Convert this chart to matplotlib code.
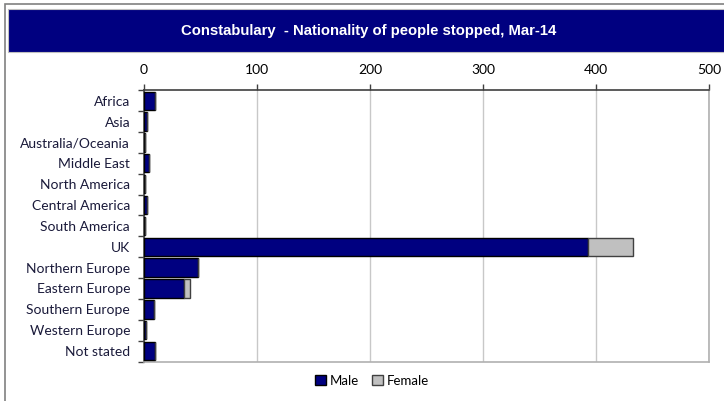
import matplotlib
matplotlib.use("Agg")
import matplotlib.pyplot as plt
import numpy as np
from matplotlib.patches import Rectangle

categories = ["Africa", "Asia", "Australia/Oceania", "Middle East", "North America",
              "Central America", "South America", "UK", "Northern Europe",
              "Eastern Europe", "Southern Europe", "Western Europe", "Not stated"]
male = [10, 3, 1, 4, 1, 3, 1, 393, 48, 35, 9, 2, 10]
female = [0, 0, 0, 0, 0, 0, 0, 40, 0, 6, 0, 0, 0]
xticks = [0, 100, 200, 300, 400, 500]
title = "Constabulary  - Nationality of people stopped, Mar-14"

W, H = 724, 401
fig = plt.figure(figsize=(W / 100, H / 100), dpi=100)
fig.patch.set_facecolor("white")

# outer border
fig.add_artist(Rectangle((4.5 / W, -0.1), 1.2, 1.1 - 3.5 / H, transform=fig.transFigure,
                         facecolor="none", edgecolor="#808080", lw=1.2))
# title banner
fig.add_artist(Rectangle((8 / W, 1 - 52 / H), 1.0, 43 / H, transform=fig.transFigure,
                         facecolor="#000080", edgecolor="#c0c0c0", lw=0.8))
fig.text(369 / W, 1 - 31 / H, title, color="white", fontsize=10.75, fontweight="bold",
         family=["Liberation Sans", "DejaVu Sans"], ha="center", va="center")

ax = fig.add_axes([144 / W, 1 - 361.5 / H, (709 - 144) / W, (361.5 - 90.3) / H])
y = np.arange(len(categories))
navy = "#000080"
grey = "#c0c0c0"
ax.barh(y, male, height=0.88, color=navy, edgecolor="black", lw=1, label="Male", zorder=3)
ax.barh(y, female, left=male, height=0.88, color=grey, edgecolor="#404040", lw=1,
        label="Female", zorder=3)

ax.set_xlim(0, 500)
ax.set_ylim(len(categories) - 0.5, -0.5)
ax.set_xticks(xticks)
ax.xaxis.tick_top()
ax.tick_params(axis="x", direction="out", length=4, width=1, color="#404040",
               labelsize=10, labelcolor="black", pad=6)
for lbl in ax.get_xticklabels():
    lbl.set_family(["Lato", "DejaVu Sans"])
ax.grid(axis="x", color="#c8c8c8", lw=1, zorder=0)

ax.set_yticks(y)
ax.set_yticklabels(categories, fontsize=10, family=["Lato", "DejaVu Sans"], color="#1a1a3a")
ax.tick_params(axis="y", which="major", length=0, pad=10)
ax.set_yticks(np.arange(-0.5, len(categories) + 0.5, 1), minor=True)
ax.tick_params(axis="y", which="minor", length=4, width=1, color="#404040", direction="out")

for s in ["top", "left"]:
    ax.spines[s].set_color("#404040")
    ax.spines[s].set_linewidth(1.2)
for s in ["right", "bottom"]:
    ax.spines[s].set_color("#b0b0b0")
    ax.spines[s].set_linewidth(1.2)

leg = fig.legend(loc="center", bbox_to_anchor=(372 / W, 1 - 381 / H), ncol=2, frameon=False,
                 handlelength=0.8, handleheight=0.8, handletextpad=0.3,
                 columnspacing=1.0, prop={"family": ["Lato", "DejaVu Sans"], "size": 9.5})

fig.savefig("out.png", dpi=100)
